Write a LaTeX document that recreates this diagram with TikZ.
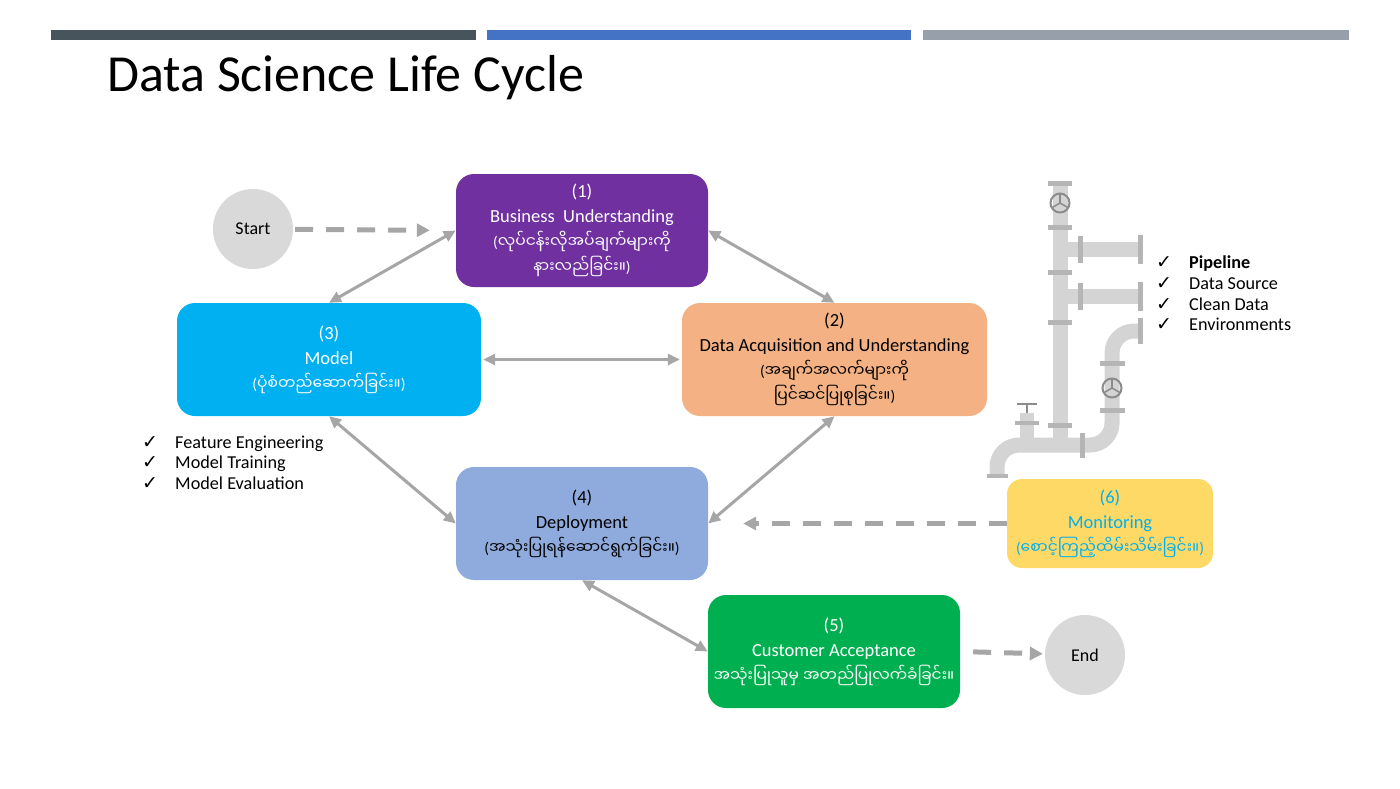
\documentclass[tikz,border=0pt]{standalone}
\usepackage{fontspec}
\setmainfont{Carlito}
\newfontfamily\mmfont[Script=Myanmar]{Noto Sans Myanmar UI}
\newfontfamily\symfont{DejaVu Sans}
\usetikzlibrary{arrows.meta,positioning}
\definecolor{barone}{HTML}{47545C}
\definecolor{bartwo}{HTML}{4472C4}
\definecolor{barthree}{HTML}{97A0AA}
\definecolor{stepone}{HTML}{7030A0}
\definecolor{steptwo}{HTML}{F4B183}
\definecolor{stepthree}{HTML}{00B0F0}
\definecolor{stepfour}{HTML}{8FAADC}
\definecolor{stepfive}{HTML}{00B050}
\definecolor{stepsix}{HTML}{FFD966}
\definecolor{termgray}{HTML}{D9D9D9}
\definecolor{arrowgray}{HTML}{A6A6A6}
\definecolor{pipegray}{HTML}{D4D4D4}
\definecolor{flangegray}{HTML}{B5B5B5}
\definecolor{wheelgray}{HTML}{8C8C8C}
\newcommand{\mm}[1]{{\fontsize{15.5}{25}\selectfont\mmfont #1}}
\newcommand{\lp}{{\rmfamily(}}
\newcommand{\rp}{{\rmfamily)}}
\tikzset{
  stage/.style={rounded corners=18pt,minimum height=113pt,align=center,inner sep=0pt,
    font=\fontsize{18.5}{25}\selectfont},
  term/.style={circle,fill=termgray,minimum size=80pt,inner sep=0pt,font=\fontsize{18}{20}\selectfont},
  link/.style={{Triangle[length=12pt,width=11pt]}-{Triangle[length=12pt,width=11pt]},arrowgray,line width=3pt},
  flow/.style={-{Triangle[length=13pt,width=13pt]},arrowgray,line width=5pt,dash pattern=on 18pt off 13pt},
  pipe/.style={pipegray,line width=15pt},
  flange/.style={fill=flangegray},
  wheel/.style={draw=wheelgray,line width=2pt},
  item/.style={anchor=base west,inner sep=0pt,font=\fontsize{18.2}{20}\selectfont}
}
\begin{document}
\begin{tikzpicture}[x=1pt,y=-1pt]
\useasboundingbox (0,0) rectangle (1400,788);
% top bars and title
\fill[barone] (51,30) rectangle (476,40);
\fill[bartwo] (487,30) rectangle (911,40);
\fill[barthree] (923,30) rectangle (1349,40);
\node (title) [anchor=base west,inner sep=0pt,font=\fontsize{52}{56}\selectfont] at (107,91) {Data Science Life Cycle};
%
% pipeline picture
\draw[pipe] (1060,182) -- (1060,445);
\draw[pipe] (1060,249.5) -- (1140,249.5);
\draw[pipe] (1060,296.5) -- (1140,296.5);
\draw[pipe,rounded corners=22pt] (997,476) -- (997,445) -- (1112,445) -- (1112,331) -- (1140,331);
\foreach \y in {183,227,272,322,425}
  \fill[flange] (1048,\y-2.5) rectangle (1072,\y+2.5);
\foreach \y in {363,410}
  \fill[flange] (1100,\y-2.5) rectangle (1125,\y+2.5);
\foreach \x/\ya/\yb in {1080/236/263,1140/235/264,1080/283/310,1140/282/311,1140/318/344,1082/433/458}
  \fill[flange] (\x-2.5,\ya) rectangle (\x+2.5,\yb);
\fill[flange] (987,474) rectangle (1008,478);
\fill[pipegray] (1020,413) rectangle (1034,440);
\fill[flange] (1015,421) rectangle (1039,425);
\draw[wheel] (1027,413) -- (1027,404);
\draw[wheel] (1017,404) -- (1037,404);
\foreach \cx/\cy in {1060/203,1112/388} {
  \draw[wheel] (\cx,\cy) circle (9.5pt);
  \foreach \a in {90,210,330}
    \draw[wheel,line width=1.5pt] (\cx,\cy) -- ++(\a:9pt);
}
%
% stages
\node (b1) [stage,fill=stepone,text=white,minimum width=252pt] at (582,230.5)
  {(1)\\Business\ \ Understanding\\\mm{\lp လုပ်ငန်းလိုအပ်ချက်များကို}\\\mm{နားလည်ခြင်း။\rp}};
\node (b2) [stage,fill=steptwo,minimum width=305pt] at (834.5,359.5)
  {(2)\\Data Acquisition and Understanding\\\mm{\lp အချက်အလက်များကို}\\\mm{ပြင်ဆင်ပြုစုခြင်း။\rp}};
\node (b3) [stage,fill=stepthree,text=white,minimum width=304pt] at (329,359.5)
  {(3)\\Model\\\mm{\lp ပုံစံတည်ဆောက်ခြင်း။\rp}};
\node (b4) [stage,fill=stepfour,minimum width=252pt] at (582,523.5)
  {(4)\\Deployment\\\mm{\lp အသုံးပြုရန်ဆောင်ရွက်ခြင်း။\rp}};
\node (b5) [stage,fill=stepfive,text=white,minimum width=252pt] at (834,651.5)
  {(5)\\Customer Acceptance\\\mm{အသုံးပြုသူမှ အတည်ပြုလက်ခံခြင်း။}};
\node (b6) [stage,fill=stepsix,text=stepthree,minimum width=206pt,minimum height=89pt,rounded corners=15pt] at (1110,523.5)
  {(6)\\Monitoring\\\mm{\lp စောင့်ကြည့်ထိမ်းသိမ်းခြင်း။\rp}};
\node (start) [term] at (253,229) {Start};
\node (finish) [term] at (1085,655) {End};
%
% check lists
\foreach \t [count=\i] in {Feature Engineering,Model Training,Model Evaluation} {
  \node (mcheck\i) [item] at (142,427.5+20.5*\i) {\symfont\fontsize{19}{20}\selectfont ✓};
  \node (mitem\i) [item] at (175,427.5+20.5*\i) {\t};
}
\foreach \t [count=\i] in {{\textbf{Pipeline}},Data Source,Clean Data,Environments} {
  \node (pcheck\i) [item] at (1156,248+20.7*\i) {\symfont\fontsize{19}{20}\selectfont ✓};
  \node (pitem\i) [item] at (1189,248+20.7*\i) {\t};
}
%
% connectors
\draw[link] (b1.west) -- (b3.north);
\draw[link] (b1.east) -- (b2.north);
\draw[link,shorten <=2pt,shorten >=2pt] (b3.east) -- (b2.west);
\draw[link] (b3.south) -- (b4.west);
\draw[link] (b2.south) -- (b4.east);
\draw[link] (b4.south) -- (b5.west);
\draw[flow,shorten <=2pt,shorten >=26pt] (start) -- (b1.west);
\draw[flow,shorten >=35pt] (b6.west) -- (b4.east);
\draw[flow,shorten <=13pt,shorten >=2pt] (b5.east) -- (finish);
\end{tikzpicture}
\end{document}
